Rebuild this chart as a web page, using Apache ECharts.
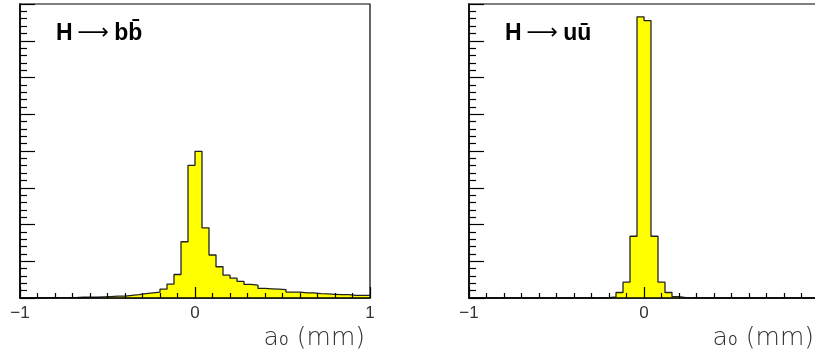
<!DOCTYPE html>
<html>
<head>
<meta charset="utf-8">
<script src="https://cdn.jsdelivr.net/npm/echarts@6/dist/echarts.min.js"></script>
<style>
  html, body { margin: 0; padding: 0; background: #fff; }
  #chart { width: 815px; height: 353px; }
</style>
</head>
<body>
<div id="chart"></div>
<script>
// Histogram binning: 50 bins of width 0.04 mm from -1 to 1
const binStart = -1;
const binWidth = 0.04;

// H -> b bbar : counts per bin (arbitrary units)
const countsBB = [
  0, 0, 0, 1, 1, 1, 1, 1, 2, 2,
  2, 3, 4, 5, 5, 7, 9, 12, 14, 16,
  24, 38, 64, 153, 361, 399, 191, 117, 85, 62,
  54, 45, 37, 35, 26, 25, 24, 23, 16, 16,
  14, 14, 12, 11, 10, 9, 9, 7, 7, 7
];

// H -> u ubar : counts per bin
const countsUU = [
  0, 0, 0, 0, 0, 0, 0, 0, 0, 0,
  0, 0, 0, 0, 0, 0, 0, 0, 0, 1,
  3, 15, 43, 168, 765, 755, 168, 43, 15, 4,
  1, 0, 0, 0, 0, 0, 0, 0, 0, 0,
  0, 0, 0, 0, 0, 0, 0, 0, 0, 0
];

const xTickLabels = { '-1': '\u22121', '0': '0', '1': '1' };
const axisName = 'a\u2080 (mm)';
const titleBB = ['H', '\u27F6', 'bb\u0304'];
const titleUU = ['H', '\u27F6', 'u\u016B'];

function stepData(counts) {
  const pts = [[binStart, 0]];
  counts.forEach((c, i) => pts.push([+(binStart + i * binWidth).toFixed(4), c]));
  const end = +(binStart + counts.length * binWidth).toFixed(4);
  pts.push([end, counts[counts.length - 1]]);
  pts.push([end, 0]);
  return pts;
}

function xAxisCfg(gi) {
  return {
    gridIndex: gi, type: 'value', min: -1, max: 1, interval: 1, z: 10,
    axisLine: { show: true, onZero: false, lineStyle: { color: '#000', width: 1.6 } },
    axisTick: { show: true, inside: true, length: 11, lineStyle: { color: '#000', width: 1.2 } },
    minorTick: { show: true, splitNumber: 10, length: 5, lineStyle: { color: '#000', width: 1.2 } },
    splitLine: { show: false }, minorSplitLine: { show: false },
    axisLabel: {
      show: true, margin: 7, fontSize: 17, color: '#333', fontFamily: 'Liberation Sans',
      formatter: v => xTickLabels[String(v)] !== undefined ? xTickLabels[String(v)] : ''
    },
    name: axisName, nameLocation: 'end', nameGap: -5,
    nameTextStyle: {
      align: 'right', verticalAlign: 'top', padding: [28, 0, 0, 0],
      fontSize: 25, color: '#333', fontFamily: 'DejaVu Sans', fontWeight: 300
    }
  };
}

function yAxisCfg(gi) {
  return {
    gridIndex: gi, type: 'value', min: 0, max: 800, interval: 100, z: 10,
    axisLine: { show: true, onZero: false, lineStyle: { color: '#000', width: 1.6 } },
    axisTick: { show: true, inside: true, length: 15, lineStyle: { color: '#000', width: 1.2 } },
    minorTick: { show: true, splitNumber: 5, length: 7, lineStyle: { color: '#000', width: 1.2 } },
    splitLine: { show: false }, minorSplitLine: { show: false },
    axisLabel: { show: false }
  };
}

function seriesCfg(idx, counts) {
  return {
    type: 'line', xAxisIndex: idx, yAxisIndex: idx, step: 'end',
    data: stepData(counts), symbol: 'none', z: 1, silent: true,
    lineStyle: { color: '#222', width: 1.3 },
    areaStyle: { color: '#ffff00', opacity: 1 }
  };
}

const titleRich = {
  b: { fontFamily: 'Liberation Sans', fontWeight: 'bold', fontSize: 23, color: '#000' },
  a: { fontFamily: 'DejaVu Sans', fontWeight: 'normal', fontSize: 22, color: '#000' }
};

function titleCfg(parts, left) {
  return {
    left: left, top: 22, padding: 0,
    text: '{b|' + parts[0] + '} {a|' + parts[1] + '} {b|' + parts[2] + '}',
    textStyle: { rich: titleRich }
  };
}

const gridBase = { top: 4, width: 350, height: 294, show: true, borderColor: '#000', borderWidth: 1.2,
  backgroundColor: 'transparent', containLabel: false, outerBoundsMode: 'none' };

const chart = echarts.init(document.getElementById('chart'), null, { renderer: 'canvas' });
chart.setOption({
  animation: false,
  backgroundColor: '#fff',
  title: [titleCfg(titleBB, 56), titleCfg(titleUU, 505)],
  grid: [
    Object.assign({ left: 20 }, gridBase),
    Object.assign({ left: 469 }, gridBase)
  ],
  xAxis: [xAxisCfg(0), xAxisCfg(1)],
  yAxis: [yAxisCfg(0), yAxisCfg(1)],
  series: [seriesCfg(0, countsBB), seriesCfg(1, countsUU)]
});
</script>
</body>
</html>
